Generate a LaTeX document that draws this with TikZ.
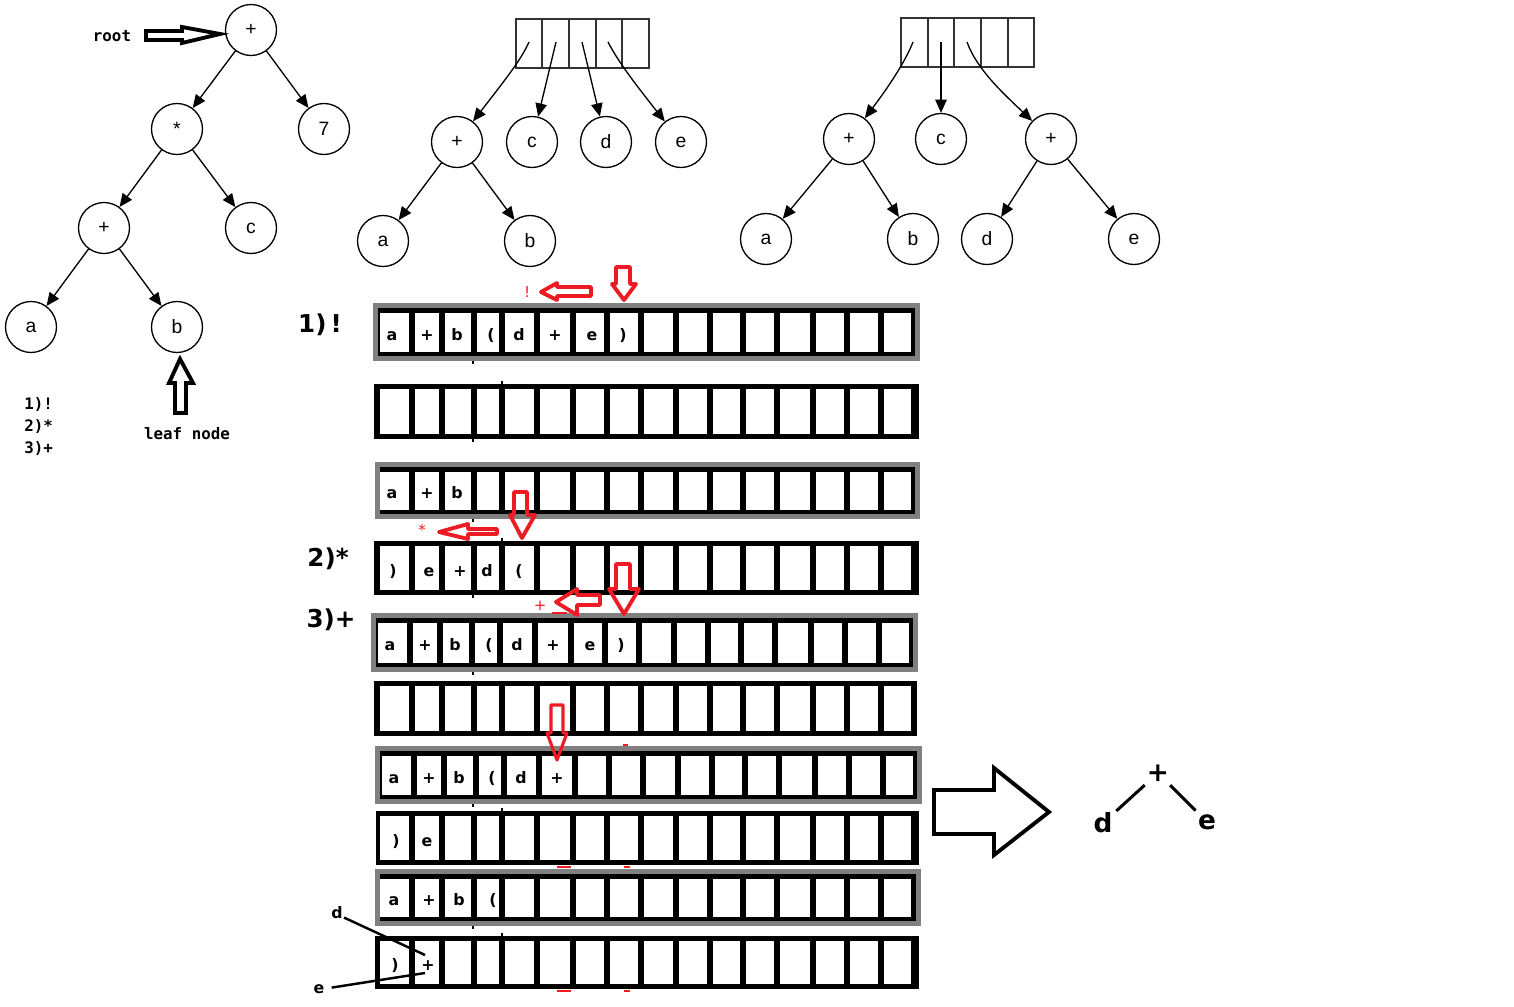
\documentclass[tikz,border=0pt]{standalone}
\usepackage{fontspec}
\setmainfont{Liberation Sans}
\newfontfamily\boldsans{DejaVu Sans}
\newfontfamily\monof{DejaVu Sans Mono}
\usetikzlibrary{arrows.meta}
\definecolor{pred}{HTML}{ED1C24}
\definecolor{pgray}{HTML}{808080}
\def\seplist{377/411.5,411.5/441.5,441.5/473.5,473.5/501.5,501.5/537,537/573,573/607,607/641,641/676,676/709.5,709.5/742.5,742.5/777,777/813,813/846.5,846.5/880.5,880.5/914}
\newcommand{\myblackrow}[5]{%
  \fill[black] (#3,#1) rectangle (#4,#2);
  \foreach \sa/\sb in \seplist {\fill[white] ({\sa+3+#5},{#1+5}) rectangle ({\sb-3+#5},{#2-5});}
}
\newcommand{\mygrayrow}[5]{%
  \fill[pgray] (#3,#1) rectangle (#4,#2);
  \fill[black] ({#3+5},{#1+5}) rectangle ({#4-5},{#2-5});
  \foreach \sa/\sb in \seplist {\fill[white] ({\sa+3+#5},{#1+10}) rectangle ({\sb-3+#5},{#2-9});}
}
\begin{document}
\begin{tikzpicture}[x=0.02cm,y=-0.02cm,
  tn/.style={circle,draw,line width=0.75pt,minimum size=1.02cm,inner sep=0pt,font=\fontsize{11}{13}\selectfont},
  tedge/.style={line width=0.75pt,-{Triangle[length=7.5pt,width=6.5pt]}},
  arrbox/.style={draw=black!80,line width=0.75pt},
  cl/.style={font=\boldsans\bfseries\fontsize{9}{10}\selectfont,anchor=base,inner sep=0pt},
  steplbl/.style={font=\boldsans\bfseries\fontsize{14}{16}\selectfont,inner sep=0pt},
  monolbl/.style={font=\monof\bfseries\fontsize{9}{11}\selectfont,inner sep=0pt},
  redlbl/.style={font=\boldsans\fontsize{8.5}{10}\selectfont,text=pred,inner sep=0pt},
  redarrow/.style={draw=pred,line width=2.2pt,line join=round},
  hollow/.style={draw=black,line width=2.2pt,line join=miter},
  tick/.style={line width=1pt},
  redtick/.style={draw=pred,line width=1.5pt},
  bigl/.style={font=\boldsans\bfseries\fontsize{15}{17}\selectfont,inner sep=2pt},
]
\fill[white] (0,0) rectangle (1514,1007);
\useasboundingbox (0,0) rectangle (1514,1007);

% ---------------- Tree 1 ----------------
\node[tn] (t1r) at (251,30) {+};
\node[tn] (t1m) at (177,129) {*};
\node[tn] (t1s) at (324,129) {7};
\node[tn] (t1p) at (104,228) {+};
\node[tn] (t1c) at (251,228) {c};
\node[tn] (t1a) at (31,327) {a};
\node[tn] (t1b) at (177,327) {b};
\draw[tedge] (t1r) -- (t1m);
\draw[tedge] (t1r) -- (t1s);
\draw[tedge] (t1m) -- (t1p);
\draw[tedge] (t1m) -- (t1c);
\draw[tedge] (t1p) -- (t1a);
\draw[tedge] (t1p) -- (t1b);

\node[monolbl] (rootl) at (112,36) {root};
\draw[hollow] (146,31) -- (182,31) -- (182,27) -- (220,34) -- (182,43) -- (182,40) -- (146,40) -- cycle;
\draw[hollow] (175,413) -- (175,383) -- (169,383) -- (180,359) -- (193,383) -- (186,383) -- (186,413) -- cycle;
\node[monolbl] (leafl) at (187,434) {leaf node};
\node[monolbl,anchor=west] (l1) at (24,405) {1)!};
\node[monolbl,anchor=west] (l2) at (24,427) {2)*};
\node[monolbl,anchor=west] (l3) at (24,449) {3)+};

% ---------------- Tree 2 ----------------
\draw[arrbox] (516,19) rectangle (649,68);
\foreach \cx in {542,569,596,622} {\draw[arrbox] (\cx,19) -- (\cx,68);}
\node[tn] (t2p) at (457,142) {+};
\node[tn] (t2c) at (532,142) {c};
\node[tn] (t2d) at (606,142) {d};
\node[tn] (t2e) at (681,142) {e};
\node[tn] (t2a) at (383,241) {a};
\node[tn] (t2b) at (530,241) {b};
\coordinate (s21) at (529,42);
\coordinate (s22) at (556,42);
\coordinate (s23) at (582,42);
\coordinate (s24) at (608,42);
\draw[tedge] (s21) .. controls (521,60) and (505,80) .. (t2p);
\draw[tedge] (s22) -- (t2c);
\draw[tedge] (s23) -- (t2d);
\draw[tedge] (s24) .. controls (618,62) and (640,90) .. (t2e);
\draw[tedge] (t2p) -- (t2a);
\draw[tedge] (t2p) -- (t2b);

% ---------------- Tree 3 ----------------
\draw[arrbox] (901,18) rectangle (1034,67);
\foreach \cx in {928,954,981,1008} {\draw[arrbox] (\cx,18) -- (\cx,67);}
\node[tn] (t3p) at (849,139) {+};
\node[tn] (t3c) at (941,139) {c};
\node[tn] (t3q) at (1051,139) {+};
\node[tn] (t3a) at (766,239) {a};
\node[tn] (t3b) at (913,239) {b};
\node[tn] (t3d) at (987,239) {d};
\node[tn] (t3e) at (1134,239) {e};
\coordinate (s31) at (913,42);
\coordinate (s32) at (941,42);
\coordinate (s33) at (967,42);
\draw[tedge] (s31) .. controls (906,60) and (890,85) .. (t3p);
\draw[tedge] (s32) -- (t3c);
\draw[tedge] (s33) .. controls (977,70) and (1005,95) .. (t3q);
\draw[tedge] (t3p) -- (t3a);
\draw[tedge] (t3p) -- (t3b);
\draw[tedge] (t3q) -- (t3d);
\draw[tedge] (t3q) -- (t3e);

% ---------------- Arrays ----------------
\mygrayrow{303}{361}{373}{920}{0}
\myblackrow{384}{439}{374}{919}{0}
\mygrayrow{462}{519}{375}{920}{0}
\myblackrow{541}{595}{374}{919}{0}
\mygrayrow{613}{672}{371}{918}{-2}
\myblackrow{681}{736}{374}{917}{0}
\mygrayrow{746}{804}{375}{922}{2}
\myblackrow{811}{865}{376}{919}{0}
\mygrayrow{869}{926}{375}{921}{0}
\myblackrow{936}{989}{375}{919}{0}

% small ticks
\foreach \ty in {361,439,519,595,672,804,926} {\draw[tick] (473,\ty) -- (473,{\ty+3});}
\foreach \ty in {384,541,811,936} {\draw[tick] (502,{\ty-3}) -- (502,\ty);}

% row letters
\node[cl] (r1a) at (392,340) {a};
\node[cl] (r1b) at (427,340) {+};
\node[cl] (r1c) at (457,340) {b};
\node[cl] (r1d) at (491,340) {(};
\node[cl] (r1e) at (519,340) {d};
\node[cl] (r1f) at (555,340) {+};
\node[cl] (r1g) at (592,340) {e};
\node[cl] (r1h) at (623,340) {)};

\node[cl] (r3a) at (392,498) {a};
\node[cl] (r3b) at (427,498) {+};
\node[cl] (r3c) at (457,498) {b};

\node[cl] (r4a) at (393,576) {)};
\node[cl] (r4b) at (429,576) {e};
\node[cl] (r4c) at (460,576) {+};
\node[cl] (r4d) at (487,576) {d};
\node[cl] (r4e) at (519,576) {(};

\node[cl] (r5a) at (390,650) {a};
\node[cl] (r5b) at (425,650) {+};
\node[cl] (r5c) at (455,650) {b};
\node[cl] (r5d) at (489,650) {(};
\node[cl] (r5e) at (517,650) {d};
\node[cl] (r5f) at (553,650) {+};
\node[cl] (r5g) at (590,650) {e};
\node[cl] (r5h) at (621,650) {)};

\node[cl] (r7a) at (394,783) {a};
\node[cl] (r7b) at (429,783) {+};
\node[cl] (r7c) at (459,783) {b};
\node[cl] (r7d) at (492,783) {(};
\node[cl] (r7e) at (521,783) {d};
\node[cl] (r7f) at (557,783) {+};

\node[cl] (r8a) at (396,846) {)};
\node[cl] (r8b) at (427,846) {e};

\node[cl] (r9a) at (394,905) {a};
\node[cl] (r9b) at (429,905) {+};
\node[cl] (r9c) at (459,905) {b};
\node[cl] (r9d) at (493,905) {(};

\node[cl] (r10a) at (395,970) {)};
\node[cl] (r10b) at (428,970) {+};

% step labels
\node[steplbl] (st1) at (320,325) {1)\,!};
\node[steplbl] (st2) at (328,559) {2)*};
\node[steplbl] (st3) at (331,620) {3)+};

% red arrows and labels
\draw[redarrow] (541,292) -- (557,283) -- (557,287) -- (591,287) -- (591,296) -- (557,296) -- (557,300) -- cycle;
\node[redlbl] (rl1) at (527,292) {!};
\draw[redarrow] (616,267) -- (630,267) -- (630,284) -- (636,284) -- (624,300) -- (612,284) -- (616,284) -- cycle;
\draw[redarrow] (514,492) -- (527,492) -- (527,515) -- (535,515) -- (522,538) -- (510,515) -- (514,515) -- cycle;
\draw[redarrow] (439,532) -- (468,524) -- (468,529) -- (497,529) -- (497,534) -- (468,534) -- (468,539) -- cycle;
\node[redlbl] (rl2) at (422,530) {*};
\draw[redarrow] (616,564) -- (630,564) -- (630,589) -- (639,589) -- (624,614) -- (609,589) -- (616,589) -- cycle;
\draw[redarrow] (556,602) -- (577,589) -- (577,595) -- (600,595) -- (600,605) -- (577,605) -- (577,615) -- cycle;
\node[redlbl] (rl3) at (540,606) {+};
\draw[redarrow,line width=1.8pt] (551,705) -- (563,705) -- (563,733) -- (567,733) -- (557,760) -- (547,733) -- (551,733) -- cycle;
\draw[redtick] (552,613) -- (567,613);
\draw[redtick] (623,745) -- (628,745);
\draw[redtick] (557,867) -- (571,867);
\draw[redtick] (624,867) -- (630,867);
\draw[redtick] (557,991) -- (571,991);
\draw[redtick] (624,991) -- (630,991);

% bottom-left d / e pointers
\node[cl] (ld) at (337,918) {d};
\node[cl] (le) at (319,993) {e};
\coordinate (dend) at (425,955);
\coordinate (eend) at (425,973);
\draw[line width=1.4pt] (ld.south east) ++(1,-1) -- (dend);
\draw[line width=1.4pt,shorten <=4pt] (le.east) -- (eend);

% big arrow and result tree
\draw[hollow] (934,790) -- (994,790) -- (994,768) -- (1049,812) -- (994,855) -- (994,834) -- (934,834) -- cycle;
\node[bigl] (bp) at (1158,773) {+};
\node[bigl] (bd) at (1103,823) {d};
\node[bigl] (be) at (1207,822) {e};
\draw[line width=1.7pt] (bd) -- (bp);
\draw[line width=1.7pt] (bp) -- (be);
\end{tikzpicture}
\end{document}
